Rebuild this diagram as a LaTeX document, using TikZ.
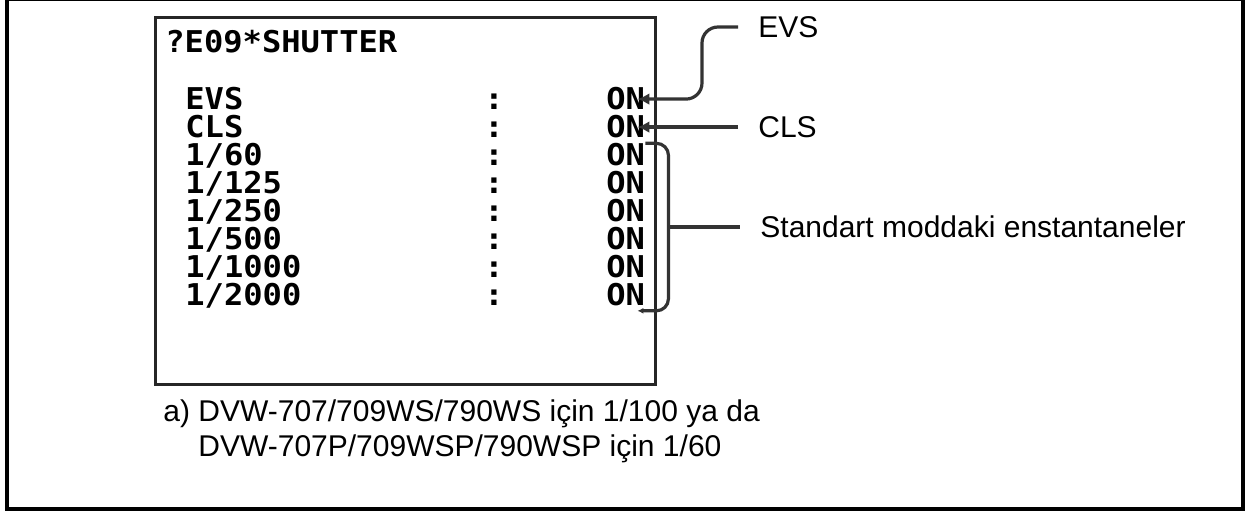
\documentclass[tikz,border=0pt]{standalone}
\usepackage{fontspec}
\setmainfont{Liberation Sans}
\newfontfamily\lcdfont[FakeStretch=1.07]{DejaVu Sans Mono}
\usetikzlibrary{arrows.meta, positioning}
\tikzset{>={Stealth}}

\begin{document}
\begin{tikzpicture}[
  x=0.5pt, y=-0.5pt,
  lcd/.style={inner sep=0pt, anchor=base west, font=\lcdfont\bfseries\fontsize{15}{15}\selectfont},
  note/.style={inner sep=0pt, anchor=west, font=\fontsize{15}{17.5}\selectfont},
  lead/.style={line width=1.6pt, black!80},
  tip/.style={-{Latex[length=6pt,width=6pt]}}
]
  \useasboundingbox (0,0) rectangle (1249,512);

  % Frames
  \draw[line width=2pt] (7,-1) rectangle (1243,509);
  \draw[line width=1.5pt, black!85] (155,18) rectangle (655,385);

  % Screen
  \node[lcd] (title) at (165,53) {?E09*SHUTTER};
  \node[lcd] (r1) at (185,110) {EVS};   \node[lcd] (c1) at (484,110) {:}; \node[lcd] (on1) at (606,110) {ON};
  \node[lcd] (r2) at (185,138) {CLS};   \node[lcd] (c2) at (484,138) {:}; \node[lcd] (on2) at (606,138) {ON};
  \node[lcd] (r3) at (185,166) {1/60};  \node[lcd] (c3) at (484,166) {:}; \node[lcd] (on3) at (606,166) {ON};
  \node[lcd] (r4) at (185,194) {1/125}; \node[lcd] (c4) at (484,194) {:}; \node[lcd] (on4) at (606,194) {ON};
  \node[lcd] (r5) at (185,222) {1/250}; \node[lcd] (c5) at (484,222) {:}; \node[lcd] (on5) at (606,222) {ON};
  \node[lcd] (r6) at (185,250) {1/500}; \node[lcd] (c6) at (484,250) {:}; \node[lcd] (on6) at (606,250) {ON};
  \node[lcd] (r7) at (185,278) {1/1000};\node[lcd] (c7) at (484,278) {:}; \node[lcd] (on7) at (606,278) {ON};
  \node[lcd] (r8) at (185,306) {1/2000};\node[lcd] (c8) at (484,306) {:}; \node[lcd] (on8) at (606,306) {ON};

  % Annotations
  \node[note] (evsN) at (758,27) {EVS};
  \node[note] (clsN) at (758,127) {CLS};
  \node[note] (stdN) at (760,227) {Standart moddaki enstantaneler};
  \node[note, align=left] (fn) at (163,431) {a) DVW-707/709WS/790WS için 1/100 ya da\\\hphantom{a)~}DVW-707P/709WSP/790WSP için 1/60};

  % Leaders
  \coordinate (brR) at ([xshift=11.5pt]on3.north east);
  \draw[lead, tip, rounded corners=8pt] ([xshift=-10pt]evsN.west) -- ++(-36,0) |- ([xshift=-4pt]on1.east);
  \draw[lead, tip] ([xshift=-10pt]clsN.west |- on2.east) -- ([xshift=-4pt]on2.east);
  \draw[lead, rounded corners=6pt, -{Latex[length=3pt,width=3pt]}] (on3.north east) -- (brR) |- ([yshift=-2pt, xshift=-4pt]on8.south east);
  \draw[lead] (brR |- stdN.west) -- ([xshift=-10pt]stdN.west);
\end{tikzpicture}
\end{document}
